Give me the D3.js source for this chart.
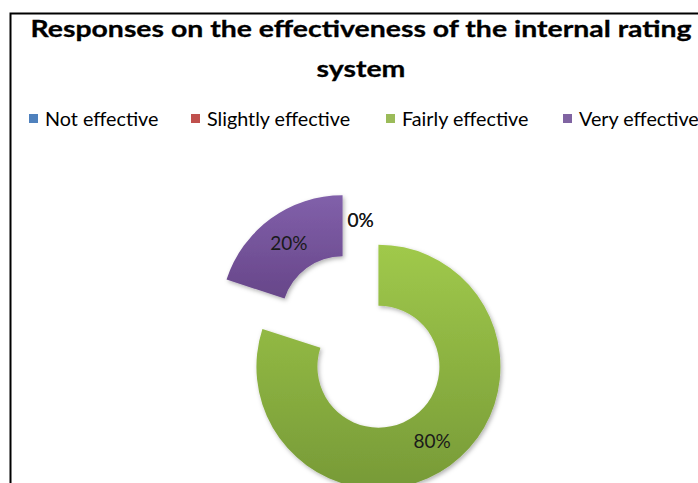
<!DOCTYPE html>
<html>
<head>
<meta charset="utf-8">
<script src="https://cdn.jsdelivr.net/npm/d3@7"></script>
<style>
  html, body { margin: 0; padding: 0; background: #fff; }
  svg { display: block; }
</style>
</head>
<body>
<svg id="chart" width="698" height="483"></svg>
<script>
// Survey responses: share of respondents per effectiveness rating
const categories = ["Not effective", "Slightly effective", "Fairly effective", "Very effective"];
const shares = [0, 0, 80, 20];
const seriesColors = ["#4f81bd", "#c0504d", "#9bbb59", "#8064a2"];
const gradTop = ["#5b8fcc", "#cc5a57", "#a0c94b", "#8160aa"];
const gradBottom = ["#41699a", "#9c3f3d", "#779a37", "#674689"];
const titleLines = ["Responses on the effectiveness of the internal rating", "system"];

const svg = d3.select("#chart");
const W = 698, H = 483;
const fontFamily = "Lato, 'Open Sans', 'Noto Sans', sans-serif";

// chart frame (left and top border of the chart area)
svg.append("path")
  .attr("d", `M10.5,${H} L10.5,13.5 L${W},13.5`)
  .attr("fill", "none").attr("stroke", "#000").attr("stroke-width", 2);

// title (widened horizontally for a heavier, broader look)
const title = svg.append("g").attr("font-family", fontFamily)
  .attr("font-weight", "bold").attr("fill", "#000").attr("text-anchor", "middle");
title.selectAll("text").data(titleLines).join("text")
  .attr("transform", (d, i) => `translate(361,${37 + i * 40}) scale(1.236,1)`)
  .attr("font-size", 23)
  .attr("stroke", "#000").attr("stroke-width", 0.3)
  .text(d => d);

// legend
const legendX = [29, 191, 386, 563];
const legend = svg.append("g").attr("font-family", fontFamily).attr("font-size", 19);
const li = legend.selectAll("g").data(categories).join("g")
  .attr("transform", (d, i) => `translate(${legendX[i]},119)`);
li.append("rect").attr("x", 0).attr("y", -5).attr("width", 9).attr("height", 9)
  .attr("fill", (d, i) => seriesColors[i]);
li.append("text").attr("transform", "translate(16,6.5) scale(1.04,1)")
  .attr("fill", "#000").text(d => d);

// gradients for slices
const defs = svg.append("defs");
categories.forEach((c, i) => {
  const g = defs.append("linearGradient").attr("id", "grad" + i)
    .attr("x1", 0).attr("y1", 0).attr("x2", 0).attr("y2", 1);
  g.append("stop").attr("offset", "0%").attr("stop-color", gradTop[i]);
  g.append("stop").attr("offset", "100%").attr("stop-color", gradBottom[i]);
});
const shadow = defs.append("filter").attr("id", "shadow")
  .attr("x", "-20%").attr("y", "-20%").attr("width", "140%").attr("height", "140%");
shadow.append("feDropShadow").attr("dx", 1.5).attr("dy", 2).attr("stdDeviation", 2)
  .attr("flood-color", "#000").attr("flood-opacity", 0.3);

// exploded doughnut
const cx = 360.5, cy = 342, outerR = 122, innerR = 61, explode = 30.5;
const pie = d3.pie().sort(null).value(d => d)(shares);
const arc = d3.arc().innerRadius(innerR).outerRadius(outerR);
const labelArc = d3.arc().innerRadius((innerR + outerR) / 2).outerRadius((innerR + outerR) / 2);

const slices = svg.append("g").attr("transform", `translate(${cx},${cy})`);
const offset = d => {
  const a = (d.startAngle + d.endAngle) / 2;
  return [explode * Math.sin(a), -explode * Math.cos(a)];
};
slices.selectAll("path").data(pie.filter(d => d.value > 0)).join("path")
  .attr("transform", d => `translate(${offset(d)})`)
  .attr("d", arc)
  .attr("fill", d => `url(#grad${d.index})`)
  .attr("filter", "url(#shadow)");

slices.selectAll("text").data(pie).join("text")
  .attr("transform", d => {
    const [ox, oy] = offset(d);
    const [lx, ly] = labelArc.centroid(d);
    return `translate(${lx + ox},${ly + oy})`;
  })
  .attr("text-anchor", "middle").attr("dy", "0.36em")
  .attr("font-family", fontFamily).attr("font-size", 19).attr("fill", "#1a1a1a")
  .text(d => d.value + "%");
</script>
</body>
</html>
